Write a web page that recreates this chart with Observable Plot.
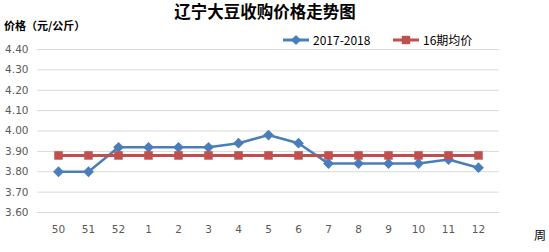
<!DOCTYPE html>
<html><head><meta charset="utf-8">
<script src="https://cdn.jsdelivr.net/npm/d3@7"></script>
<script src="https://cdn.jsdelivr.net/npm/@observablehq/plot@0.6"></script>
<style>
body{margin:0;background:#fff;font-family:"Noto Sans CJK SC","DejaVu Sans",sans-serif;}
#wrap{position:relative;width:549px;height:252px;overflow:hidden;}
.t{position:absolute;white-space:nowrap;line-height:1.45;}
</style></head>
<body><div id="wrap">
<div class="t" style="left:0;width:530px;text-align:center;top:0px;font-size:16.5px;font-weight:bold;color:#000;">辽宁大豆收购价格走势图</div>
<div class="t" style="left:4px;top:18px;font-size:11px;font-weight:bold;color:#000;">价格（元/公斤）</div>
<div class="t" style="left:534px;top:226px;font-size:12px;color:#000;">周</div>
</div>
<script>
const weeks = ["50","51","52","1","2","3","4","5","6","7","8","9","10","11","12"];
const series2017 = [3.80,3.80,3.92,3.92,3.92,3.92,3.94,3.98,3.94,3.84,3.84,3.84,3.84,3.86,3.82];
const avg16 = [3.88,3.88,3.88,3.88,3.88,3.88,3.88,3.88,3.88,3.88,3.88,3.88,3.88,3.88,3.88];
const yTicks = [3.6,3.7,3.8,3.9,4.0,4.1,4.2,4.3,4.4];
const seriesNames = ["2017-2018","16期均价"];
const colors = ["#4a7ebb","#c0504d"];

const blue = weeks.map((w,i)=>({w, v:series2017[i]}));
const red = weeks.map((w,i)=>({w, v:avg16[i]}));

// square rotated 45° (Excel-style diamond)
const rhombus = {draw(ctx, size){ const h = Math.sqrt(size/2); ctx.moveTo(0,-h); ctx.lineTo(h,0); ctx.lineTo(0,h); ctx.lineTo(-h,0); ctx.closePath(); }};

const chart = Plot.plot({
  width:549, height:252,
  marginTop:49, marginBottom:40, marginLeft:37, marginRight:50,
  style:{fontFamily:"'DejaVu Sans',sans-serif", fontSize:"10.5px", color:"#595959", background:"transparent"},
  x:{type:"point", domain:weeks, padding:0.5, label:null, tickSize:0, tickPadding:13},
  y:{domain:[3.6,4.4], ticks:yTicks, tickFormat:d3.format(".2f"), label:null, tickSize:0, tickPadding:9},
  marks:[
    Plot.gridY(yTicks,{stroke:"#d9d9d9", strokeOpacity:1}),
    Plot.line(blue,{x:"w", y:"v", stroke:colors[0], strokeWidth:2.5}),
    Plot.dot(blue,{x:"w", y:"v", symbol:rhombus, fill:colors[0], r:4.3}),
    Plot.line(red,{x:"w", y:"v", stroke:colors[1], strokeWidth:3}),
    Plot.dot(red,{x:"w", y:"v", symbol:"square", fill:colors[1], r:4.8})
  ]
});
chart.style.position="absolute"; chart.style.left="0"; chart.style.top="0";
document.getElementById("wrap").prepend(chart);

// legend
const lg = d3.select("#wrap").append("svg").attr("width",549).attr("height",60)
  .style("position","absolute").style("left","0").style("top","0");
const items = [{x:283, c:colors[0], s:rhombus, name:seriesNames[0]},{x:393, c:colors[1], s:d3.symbolSquare, name:seriesNames[1]}];
items.forEach(it=>{
  lg.append("line").attr("x1",it.x).attr("x2",it.x+26).attr("y1",40).attr("y2",40).attr("stroke",it.c).attr("stroke-width",3);
  lg.append("path").attr("d",d3.symbol(it.s, it.s===d3.symbolSquare?70:50)()).attr("transform",`translate(${it.x+13},40)`).attr("fill",it.c);
  lg.append("text").attr("x",it.x+30).attr("y",44.5).attr("font-size","12px").attr("fill","#000")
    .attr("font-family","'Noto Sans CJK SC','DejaVu Sans',sans-serif").text(it.name);
});
</script>
</body></html>
